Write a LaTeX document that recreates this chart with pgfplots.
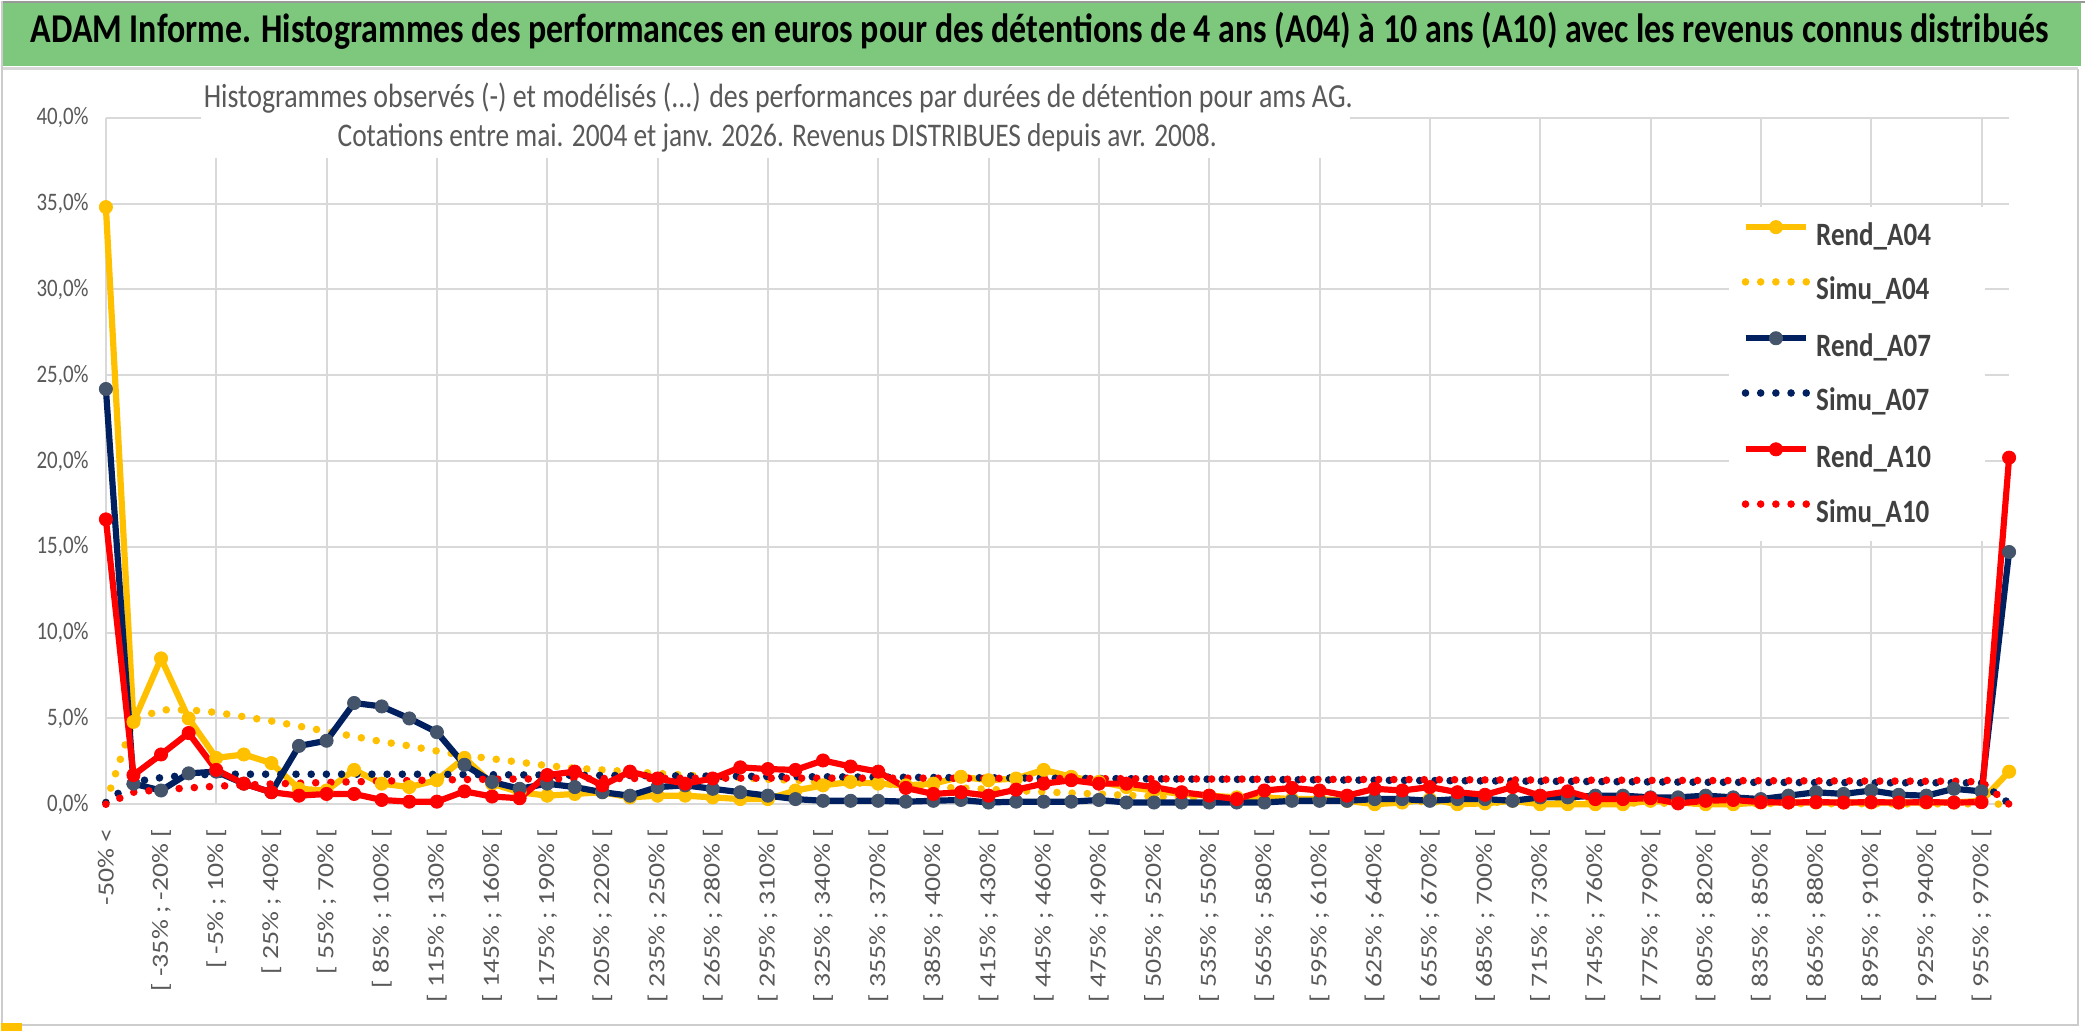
\documentclass[border=0pt]{standalone}
\usepackage{fontspec}
\setmainfont{Carlito}[FakeStretch=0.83]
\newfontfamily\xlabfont{Carlito}[FakeStretch=1.2]
\usepackage{pgfplots}
\usepackage{pgfplotstable}
\pgfplotsset{compat=1.18}
\definecolor{cgold}{HTML}{FFC000}
\definecolor{cnavy}{HTML}{002060}
\definecolor{cslate}{HTML}{44546A}
\definecolor{cred}{HTML}{FF0000}
\definecolor{cgrid}{HTML}{D9D9D9}
\definecolor{ctext}{HTML}{595959}
\definecolor{clegend}{HTML}{404040}
\definecolor{cgreen}{RGB}{125,200,125}

\pgfplotstableread{
i RA04 SA04 RA07 SA07 RA10 SA10
0 34.8 0.1 24.2 0.1 16.6 0.0
1 4.8 4.9 1.2 1.3 1.7 0.7
2 8.5 5.5 0.8 1.55 2.9 0.85
3 5.0 5.5 1.8 1.7 4.15 0.95
4 2.7 5.35 1.9 1.75 2.0 1.05
5 2.9 5.1 1.2 1.75 1.2 1.12
6 2.4 4.85 0.7 1.75 0.7 1.18
7 0.9 4.55 3.4 1.75 0.5 1.23
8 0.8 4.25 3.7 1.75 0.6 1.27
9 2.0 3.95 5.9 1.75 0.6 1.31
10 1.2 3.65 5.7 1.75 0.25 1.35
11 1.0 3.4 5.0 1.75 0.15 1.38
12 1.4 3.1 4.2 1.74 0.15 1.41
13 2.7 2.85 2.3 1.73 0.75 1.44
14 1.2 2.65 1.3 1.72 0.45 1.46
15 0.7 2.45 0.9 1.71 0.35 1.47
16 0.5 2.25 1.2 1.70 1.7 1.48
17 0.6 2.1 1.0 1.69 1.9 1.49
18 0.7 2.0 0.7 1.68 1.1 1.5
19 0.4 1.9 0.5 1.67 1.9 1.5
20 0.5 1.8 1.0 1.66 1.5 1.51
21 0.5 1.7 1.1 1.65 1.2 1.51
22 0.4 1.6 0.9 1.64 1.5 1.52
23 0.3 1.55 0.7 1.63 2.15 1.52
24 0.3 1.45 0.5 1.62 2.05 1.52
25 0.8 1.4 0.3 1.61 2.0 1.52
26 1.1 1.3 0.2 1.60 2.55 1.52
27 1.3 1.25 0.2 1.59 2.2 1.52
28 1.2 1.2 0.2 1.58 1.9 1.52
29 1.1 1.1 0.15 1.57 0.95 1.52
30 1.2 1.0 0.2 1.56 0.6 1.52
31 1.6 0.95 0.25 1.55 0.7 1.51
32 1.4 0.87 0.1 1.54 0.5 1.51
33 1.5 0.8 0.15 1.53 0.85 1.51
34 2.0 0.72 0.15 1.52 1.2 1.5
35 1.6 0.65 0.15 1.51 1.4 1.5
36 1.3 0.6 0.25 1.50 1.2 1.49
37 1.0 0.52 0.1 1.49 1.2 1.49
38 0.8 0.46 0.1 1.48 1.0 1.48
39 0.6 0.4 0.1 1.47 0.7 1.48
40 0.5 0.36 0.1 1.46 0.5 1.47
41 0.4 0.32 0.1 1.45 0.3 1.47
42 0.4 0.29 0.1 1.44 0.8 1.46
43 0.3 0.26 0.2 1.43 0.95 1.46
44 0.3 0.23 0.2 1.42 0.8 1.45
45 0.2 0.21 0.2 1.41 0.5 1.45
46 0.0 0.19 0.3 1.40 0.9 1.44
47 0.1 0.17 0.3 1.39 0.8 1.44
48 0.3 0.15 0.2 1.38 1.0 1.43
49 0.0 0.14 0.3 1.37 0.7 1.43
50 0.05 0.12 0.3 1.36 0.55 1.42
51 0.2 0.11 0.2 1.35 1.0 1.42
52 0.0 0.10 0.4 1.34 0.5 1.41
53 0.0 0.09 0.4 1.33 0.75 1.41
54 0.0 0.08 0.5 1.32 0.3 1.4
55 0.0 0.07 0.5 1.31 0.3 1.4
56 0.2 0.06 0.4 1.30 0.35 1.39
57 0.1 0.06 0.4 1.29 0.05 1.39
58 0.0 0.05 0.5 1.28 0.2 1.38
59 0.0 0.05 0.4 1.28 0.25 1.38
60 0.1 0.04 0.3 1.27 0.12 1.37
61 0.1 0.04 0.5 1.27 0.1 1.37
62 0.1 0.03 0.7 1.26 0.12 1.36
63 0.1 0.03 0.6 1.26 0.1 1.36
64 0.1 0.03 0.8 1.25 0.12 1.35
65 0.1 0.02 0.55 1.25 0.1 1.35
66 0.1 0.02 0.5 1.25 0.12 1.34
67 0.1 0.02 0.9 1.25 0.1 1.34
68 0.2 0.02 0.75 1.24 0.12 1.3
69 1.9 0.0 14.7 0.05 20.2 0.0
}\datatable

\begin{document}
\begin{tikzpicture}
% page
\fill[white] (0pt,0pt) rectangle (1043pt,-515.5pt);
\draw[gray!80, line width=1pt] (0pt,-0.5pt) -- (1043pt,-0.5pt);
\draw[gray!40, line width=1pt] (0.5pt,0pt) -- (0.5pt,-515.5pt);
\draw[gray!40, line width=1pt] (0pt,-512.5pt) -- (1039.5pt,-512.5pt) -- (1039.5pt,-34pt);
\fill[cgreen] (1pt,-1.2pt) rectangle (1041pt,-32.5pt);
\draw[gray!30, line width=1.2pt] (1pt,-33.8pt) -- (1039.5pt,-33.8pt);
\fill[cgold] (0pt,-511.5pt) rectangle (10.5pt,-515.5pt);
\node[anchor=base, inner sep=0pt] at (520pt,-20.8pt)
  {\resizebox{1010pt}{!}{\bfseries ADAM Informe. Histogrammes des performances en euros pour des détentions de 4 ans (A04) à 10 ans (A10) avec les revenus connus distribués}};

\begin{axis}[
  at={(52.5pt,-402pt)}, anchor=south west,
  width=952.5pt, height=343.5pt, scale only axis,
  xmin=0, xmax=69, ymin=0, ymax=40,
  clip=false,
  axis line style={draw=none},
  ytick={0,5,...,40},
  yticklabels={{0,0\%},{5,0\%},{10,0\%},{15,0\%},{20,0\%},{25,0\%},{30,0\%},{35,0\%},{40,0\%}},
  ymajorgrids,
  grid style={cgrid, line width=1pt},
  ytick style={draw=none},
  yticklabel style={font=\fontsize{12.6}{13}\selectfont, text=ctext, anchor=east, inner sep=0pt, xshift=-8.5pt},
  xtick={0,2,...,68},
  xticklabels={{-50\% <},{[ -35\% ; -20\% [},{[ -5\% ; 10\% [},{[ 25\% ; 40\% [},{[ 55\% ; 70\% [},{[ 85\% ; 100\% [},{[ 115\% ; 130\% [},{[ 145\% ; 160\% [},{[ 175\% ; 190\% [},{[ 205\% ; 220\% [},{[ 235\% ; 250\% [},{[ 265\% ; 280\% [},{[ 295\% ; 310\% [},{[ 325\% ; 340\% [},{[ 355\% ; 370\% [},{[ 385\% ; 400\% [},{[ 415\% ; 430\% [},{[ 445\% ; 460\% [},{[ 475\% ; 490\% [},{[ 505\% ; 520\% [},{[ 535\% ; 550\% [},{[ 565\% ; 580\% [},{[ 595\% ; 610\% [},{[ 625\% ; 640\% [},{[ 655\% ; 670\% [},{[ 685\% ; 700\% [},{[ 715\% ; 730\% [},{[ 745\% ; 760\% [},{[ 775\% ; 790\% [},{[ 805\% ; 820\% [},{[ 835\% ; 850\% [},{[ 865\% ; 880\% [},{[ 895\% ; 910\% [},{[ 925\% ; 940\% [},{[ 955\% ; 970\% [}},
  xtick style={draw=none},
  xticklabel style={font=\xlabfont\fontsize{11.6}{12}\selectfont, text=ctext, rotate=90, anchor=east, inner sep=0pt},
  xticklabel shift=12pt,
  extra x ticks={0,4,...,68},
  extra x tick labels={},
  extra x tick style={xmajorgrids=true, tick align=outside, major tick length=4.5pt, tick style={draw=cgrid, line width=1pt}},
  legend style={at={(0.8593,0.851)}, anchor=north west, draw=none, fill=none, inner sep=0pt,
     row sep=12.4pt, column sep=3pt,
     font=\bfseries\fontsize{16.3}{18}\selectfont, text=clegend,
     nodes={inner sep=0pt, text height=11.5pt, text depth=3.5pt}},
  legend cell align=left,
  legend image code/.code={\draw[mark repeat=2,mark phase=2,#1] plot coordinates {(0pt,5pt) (15.25pt,5pt) (30.5pt,5pt)};},
]
\fill[white] (rel axis cs:0.853,0.8705) rectangle (rel axis cs:0.9874,0.384);
\addplot[cgold, line width=3.1pt, line join=round, mark=*, mark size=3.3pt, mark options={solid, fill=cgold, draw=cgold, line width=0.4pt}] table[x=i, y=RA04] {\datatable};
\addplot[cgold, line width=3.8pt, line cap=round, dash pattern=on 0pt off 7.6pt] table[x=i, y=SA04] {\datatable};
\addplot[cnavy, line width=3.1pt, line join=round, mark=*, mark size=3.3pt, mark options={solid, fill=cslate, draw=cslate, line width=0.4pt}] table[x=i, y=RA07] {\datatable};
\addplot[cnavy, line width=3.8pt, line cap=round, dash pattern=on 0pt off 7.6pt] table[x=i, y=SA07] {\datatable};
\addplot[cred, line width=3.1pt, line join=round, mark=*, mark size=3.3pt, mark options={solid, fill=cred, draw=cred, line width=0.4pt}] table[x=i, y=RA10] {\datatable};
\addplot[cred, line width=3.8pt, line cap=round, dash pattern=on 0pt off 7.6pt] table[x=i, y=SA10] {\datatable};
\legend{Rend\_A04, Simu\_A04, Rend\_A07, Simu\_A07, Rend\_A10, Simu\_A10}
\end{axis}

\fill[white] (100pt,-35pt) rectangle (675pt,-78.5pt);
\node[anchor=base, inner sep=0pt, text=ctext] at (389pt,-53.5pt)
  {\resizebox{575pt}{!}{Histogrammes observés (-) et modélisés (...) des performances par durées de détention pour ams AG.}};
\node[anchor=base, inner sep=0pt, text=ctext] at (388.5pt,-73pt)
  {\resizebox{440pt}{!}{Cotations entre mai. 2004 et janv. 2026. Revenus DISTRIBUES depuis avr. 2008.}};
\end{tikzpicture}
\end{document}
